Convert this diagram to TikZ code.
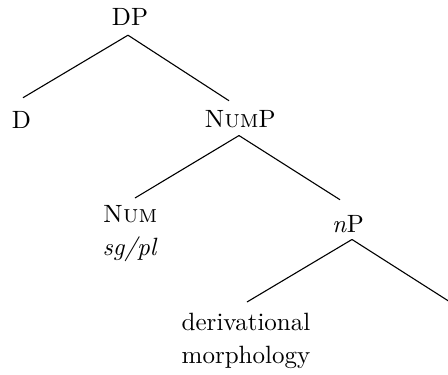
\documentclass[tikz,border=0pt]{standalone}
\usepackage{fontspec}
% design-size 10 Latin Modern at every size (wider than the size-17 cut)
\setmainfont{lmroman10-regular.otf}[
  ItalicFont=lmroman10-italic.otf,
  SmallCapsFont=lmromancaps10-regular.otf]
\usetikzlibrary{calc}
\begin{document}
\begin{tikzpicture}[x=1pt,y=-1pt,
    lbl/.style={font=\fontsize{25}{33}\selectfont, inner sep=0pt, anchor=base},
    leaf/.style={lbl, anchor=north, align=center},
    branch/.style={line width=1.1pt}]
  \useasboundingbox (0,0) rectangle (448,375);

  % labels
  \node[lbl] (dp)   at (130,25)  {DP};
  \node[lbl] (d)    at (21.5,128) {D};
  \node[lbl] (nump) at (240,127) {\textsc{Num}P};
  \node[leaf] (num) at (130,205) {\textsc{Num}\\\textit{sg/pl}};
  \node[lbl] (np)   at (348,232) {\textit{n}P};
  \node[leaf] (der) at (246,313) {derivational\\morphology};
  \coordinate (rest) at (448.5,301);

  % branches
  \draw[branch] ($(dp.south)+(-2,10)$) -- ($(d.north)+(1.5,-13)$);
  \draw[branch] ($(dp.south)+(-2,10)$) -- ($(nump.north)+(-11,-9)$);
  \draw[branch] ($(nump.south)+(-1,8)$) -- ($(num.north)+(5,-7)$);
  \draw[branch] ($(nump.south)+(-1,8)$) -- ($(np.north)+(-8,-15)$);
  \draw[branch] ($(np.south)+(4,7)$) -- ($(der.north)+(1,-11)$);
  \draw[branch] ($(np.south)+(4,7)$) -- (rest);
\end{tikzpicture}
\end{document}
